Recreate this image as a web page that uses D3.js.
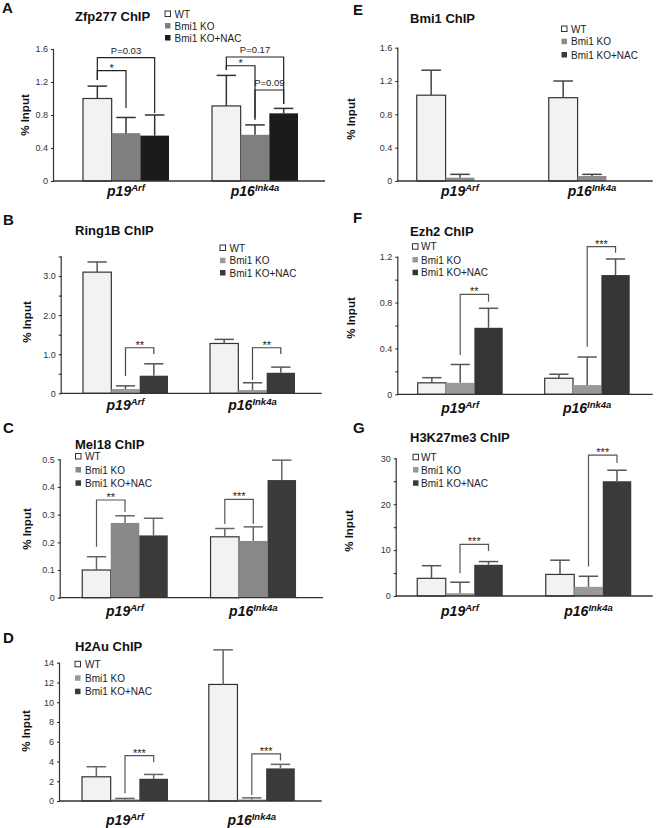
<!DOCTYPE html>
<html><head><meta charset="utf-8">
<script src="https://cdn.jsdelivr.net/npm/d3@7/dist/d3.min.js"></script>
<style>
body{margin:0;background:#fff}
svg{display:block}
text{font-family:"Liberation Sans", Arial, Helvetica, sans-serif}
</style>
</head><body>
<svg id="fig" width="661" height="828"></svg>
<script>
// ---------------- DATA ----------------
const genes = ["p19Arf", "p16Ink4a"];
const geneMain = ["p19", "p16"];
const geneSup = ["Arf", "Ink4a"];
const seriesNames = ["WT", "Bmi1 KO", "Bmi1 KO+NAC"];

// A  Zfp277 ChIP   [gene][series]
const zfp277Mean = [[1.00, 0.58, 0.55], [0.91, 0.56, 0.82]];
const zfp277Err  = [[0.15, 0.19, 0.25], [0.37, 0.12, 0.06]];
const zfp277Ticks = [0, 0.4, 0.8, 1.2, 1.6];
const zfp277TickLabels = ["0", "0.4", "0.8", "1.2", "1.6"];
// [gene, fromSeries, toSeries, leftFoot, top, rightFoot, label]
const zfp277Sig = [
  [0, 0, 2, 1.224, 1.495, 0.824, "P=0.03"],
  [0, 0, 1, 1.224, 1.337, 0.885, "*"],
  [1, 0, 2, 1.345, 1.503, 0.933, "P=0.17"],
  [1, 0, 1, 1.345, 1.397, 0.740, "*"],
  [1, 1, 2, 0.764, 1.103, 0.933, "P=0.09"]
];

// B  Ring1B ChIP
const ring1bMean = [[3.10, 0.11, 0.45], [1.275, 0.085, 0.525]];
const ring1bErr  = [[0.26, 0.08, 0.305], [0.105, 0.185, 0.145]];
const ring1bTicks = [0, 0.5, 1, 1.5, 2, 2.5, 3, 3.5];
const ring1bTickLabels = ["0", "", "1.0", "", "2.0", "", "3.0", ""];
const ring1bSig = [
  [0, 1, 2, 0.44, 1.166, 1.005, "**"],
  [1, 1, 2, 0.34, 1.166, 1.005, "**"]
];

// C  Mel18 ChIP
const mel18Mean = [[0.10, 0.27, 0.225], [0.22, 0.205, 0.425]];
const mel18Err  = [[0.048, 0.026, 0.062], [0.03, 0.051, 0.072]];
const mel18Ticks = [0, 0.1, 0.2, 0.3, 0.4, 0.5];
const mel18TickLabels = ["0", "0.1", "0.2", "0.3", "0.4", "0.5"];
const mel18Sig = [
  [0, 0, 1, 0.184, 0.353, 0.31, "**"],
  [1, 0, 1, 0.266, 0.355, 0.266, "***"]
];

// D  H2Au ChIP
const h2auMean = [[2.45, 0.16, 2.25], [11.8, 0.15, 3.3]];
const h2auErr  = [[1.02, 0.1, 0.44], [3.5, 0.17, 0.41]];
const h2auTicks = [0, 2, 4, 6, 8, 10, 12, 14];
const h2auTickLabels = ["0", "2", "4", "6", "8", "10", "12", "14"];
const h2auSig = [
  [0, 1, 2, 0.78, 4.6, 3.93, "***"],
  [1, 1, 2, 0.6, 4.77, 4.09, "***"]
];

// E  Bmi1 ChIP
const bmi1Mean = [[1.03, 0.04, 0], [1.00, 0.06, 0]];
const bmi1Err  = [[0.30, 0.04, 0], [0.20, 0.02, 0]];
const bmi1Ticks = [0, 0.4, 0.8, 1.2, 1.6];
const bmi1TickLabels = ["0", "0.4", "0.8", "1.2", "1.6"];
const bmi1Sig = [];

// F  Ezh2 ChIP
const ezh2Mean = [[0.10, 0.10, 0.58], [0.14, 0.08, 1.04]];
const ezh2Err  = [[0.045, 0.16, 0.17], [0.035, 0.245, 0.14]];
const ezh2Ticks = [0, 0.2, 0.4, 0.6, 0.8, 1.0, 1.2];
const ezh2TickLabels = ["0", "", "0.4", "", "0.8", "", "1.2"];
const ezh2Sig = [
  [0, 1, 2, 0.343, 0.872, 0.807, "**"],
  [1, 1, 2, 0.415, 1.287, 1.235, "***"]
];

// G  H3K27me3 ChIP
const h3k27Mean = [[3.85, 0.6, 6.8], [4.7, 2.0, 25.0]];
const h3k27Err  = [[2.75, 2.4, 0.7], [3.1, 2.3, 2.4]];
const h3k27Ticks = [0, 5, 10, 15, 20, 25, 30];
const h3k27TickLabels = ["0", "", "10", "", "20", "", "30"];
const h3k27Sig = [
  [0, 1, 2, 4.95, 11.26, 9.8, "***"],
  [1, 1, 2, 6.4, 30.7, 29.0, "***"]
];

// ---------------- LAYOUT / STYLE ----------------
const panels = [
  {letter:"A", title:"Zfp277 ChIP", mean:zfp277Mean, err:zfp277Err, ticks:zfp277Ticks, tickLabels:zfp277TickLabels, sig:zfp277Sig,
   L:{lx:2, ly:13, tx:75, ty:21, ax0:54, ax1:325, c:[126,255], gw:86, y0:181, y1:49, catY:196, labX:25, labY:115,
      leg:{sx:165, tx:174.5, ys:[14,26,38]}, colors:["#f2f2f2","#7f7f7f","#1b1b1b"], errC:"#333", sigC:"#222"}},
  {letter:"B", title:"Ring1B ChIP", mean:ring1bMean, err:ring1bErr, ticks:ring1bTicks, tickLabels:ring1bTickLabels, sig:ring1bSig,
   L:{lx:3, ly:225, tx:75, ty:235, ax0:61.7, ax1:321.7, c:[125.5,252.5], gw:85, y0:393.3, y1:256.5, catY:410, labX:27, labY:322,
      leg:{sx:220, tx:229.5, ys:[248,260.7,273]}, colors:["#f2f2f2","#9a9a9a","#3a3a3a"], errC:"#555", sigC:"#444"}},
  {letter:"C", title:"Mel18 ChIP", mean:mel18Mean, err:mel18Err, ticks:mel18Ticks, tickLabels:mel18TickLabels, sig:mel18Sig,
   L:{lx:3, ly:433, tx:75, ty:449, ax0:60.7, ax1:323, c:[125,253.3], gw:85.5, y0:597.7, y1:459.3, catY:616, labX:27, labY:529,
      leg:{sx:75.5, tx:85, ys:[456.5,470,483.3]}, colors:["#f2f2f2","#888888","#3a3a3a"], errC:"#666", sigC:"#555"}},
  {letter:"D", title:"H2Au ChIP", mean:h2auMean, err:h2auErr, ticks:h2auTicks, tickLabels:h2auTickLabels, sig:h2auSig,
   L:{lx:3, ly:643, tx:75, ty:651, ax0:60, ax1:321.7, c:[125,251.8], gw:86, y0:801, y1:662.7, catY:825, labX:26, labY:731,
      leg:{sx:75, tx:85, ys:[664.3,678.3,691.7]}, colors:["#f2f2f2","#999999","#3a3a3a"], errC:"#666", sigC:"#555"}},
  {letter:"E", title:"Bmi1 ChIP", mean:bmi1Mean, err:bmi1Err, ticks:bmi1Ticks, tickLabels:bmi1TickLabels, sig:bmi1Sig,
   L:{lx:353, ly:15, tx:410, ty:23, ax0:398.3, ax1:652.7, c:[460,592], gw:86.5, y0:181, y1:47.7, catY:196, labX:351, labY:119,
      leg:{sx:561.5, tx:571, ys:[29,41.7,55]}, colors:["#f2f2f2","#8c8c8c","#3a3a3a"], errC:"#444", sigC:"#444"}},
  {letter:"F", title:"Ezh2 ChIP", mean:ezh2Mean, err:ezh2Err, ticks:ezh2Ticks, tickLabels:ezh2TickLabels, sig:ezh2Sig,
   L:{lx:353, ly:223, tx:410, ty:236, ax0:398.3, ax1:652.7, c:[460.2,587.2], gw:85, y0:394.3, y1:256.7, catY:413, labX:351, labY:318,
      leg:{sx:412.5, tx:421, ys:[246.7,260,272.7]}, colors:["#f2f2f2","#999999","#353535"], errC:"#555", sigC:"#555"}},
  {letter:"G", title:"H3K27me3 ChIP", mean:h3k27Mean, err:h3k27Err, ticks:h3k27Ticks, tickLabels:h3k27TickLabels, sig:h3k27Sig,
   L:{lx:353, ly:433, tx:410, ty:442, ax0:396.7, ax1:652.7, c:[460,588.5], gw:85.5, y0:596, y1:458.3, catY:616, labX:349, labY:531,
      leg:{sx:413, tx:421, ys:[457.3,470,483.3]}, colors:["#f2f2f2","#999999","#3a3a3a"], errC:"#555", sigC:"#555"}}
];

const svg = d3.select("#fig");
svg.append("rect").attr("width",661).attr("height",828).attr("fill","#fff");

panels.forEach(p => {
  const L = p.L;
  const g = svg.append("g");
  const step = L.c[1] - L.c[0];
  const pin = 1 - L.gw / step;
  const x0 = d3.scaleBand().domain(genes).range([L.c[0] - step/2, L.c[1] + step/2])
    .paddingInner(pin).paddingOuter(pin/2);
  const x1 = d3.scaleBand().domain(seriesNames).range([0, x0.bandwidth()]).padding(0);
  const ymax = p.ticks[p.ticks.length - 1];
  const y = d3.scaleLinear().domain([0, ymax]).range([L.y0, L.y1]);
  const bw = x1.bandwidth();
  const cx = (gi, si) => x0(genes[gi]) + x1(seriesNames[si]) + bw/2;

  // letter and title
  g.append("text").attr("x", L.lx).attr("y", L.ly).attr("font-size", 15).attr("font-weight", "bold").attr("fill","#111").text(p.letter);
  g.append("text").attr("x", L.tx).attr("y", L.ty).attr("font-size", 13).attr("font-weight", "bold").attr("fill","#111").text(p.title);

  // bars
  genes.forEach((gene, gi) => {
    seriesNames.forEach((s, si) => {
      const v = p.mean[gi][si];
      g.append("rect")
        .attr("x", x0(gene) + x1(s)).attr("y", y(v))
        .attr("width", bw).attr("height", Math.max(0, y(0) - y(v)))
        .attr("fill", L.colors[si])
        .attr("stroke", si === 0 ? "#333" : "none").attr("stroke-width", 1.2);
    });
  });
  // error bars
  genes.forEach((gene, gi) => {
    seriesNames.forEach((s, si) => {
      const v = p.mean[gi][si], e = p.err[gi][si];
      if (!e) return;
      const c = cx(gi, si);
      const capW = bw * 0.68;
      g.append("line").attr("x1", c).attr("x2", c).attr("y1", y(v)).attr("y2", y(v + e))
        .attr("stroke", L.errC).attr("stroke-width", 1.5);
      g.append("line").attr("x1", c - capW/2).attr("x2", c + capW/2).attr("y1", y(v + e)).attr("y2", y(v + e))
        .attr("stroke", L.errC).attr("stroke-width", 1.5);
    });
  });

  // axes
  const yAxis = d3.axisLeft(y).tickValues(p.ticks).tickSize(3).tickPadding(3)
    .tickFormat((d, i) => p.tickLabels[i]);
  const ga = g.append("g").attr("transform", `translate(${L.ax0},0)`).call(yAxis);
  ga.select(".domain").attr("stroke", "#333").attr("stroke-width", 1.2).attr("d", `M-0.5,${y(ymax)}V${y(0)}`);
  ga.selectAll(".tick line").attr("stroke", "#333").attr("stroke-width", 1.1);
  ga.selectAll(".tick text").attr("font-size", 9).attr("fill", "#333")
    .attr("font-family", '"Liberation Sans", Arial, sans-serif');
  g.append("line").attr("x1", L.ax0 - 1).attr("x2", L.ax1).attr("y1", y(0)).attr("y2", y(0))
    .attr("stroke", "#333").attr("stroke-width", 1.3);

  // y label
  g.append("text").attr("transform", `translate(${L.labX + 4},${L.labY}) rotate(-90)`)
    .attr("text-anchor", "middle").attr("font-size", 11.5).attr("font-weight", "bold").attr("fill", "#111")
    .text("% Input");

  // category labels
  genes.forEach((gene, gi) => {
    const t = g.append("text").attr("x", x0(gene) + x0.bandwidth()/2).attr("y", L.catY)
      .attr("text-anchor", "middle").attr("font-weight", "bold").attr("font-style", "italic").attr("fill", "#111");
    t.append("tspan").attr("font-size", 14).text(geneMain[gi]);
    t.append("tspan").attr("font-size", 9.5).attr("dy", -5.5).text(geneSup[gi]);
  });

  // legend
  seriesNames.forEach((s, si) => {
    const ry = L.leg.ys[si];
    g.append("rect").attr("x", L.leg.sx).attr("y", ry - 3).attr("width", 5.5).attr("height", 5.5)
      .attr("fill", si === 0 ? "#fff" : L.colors[si])
      .attr("stroke", si === 0 ? "#333" : "none").attr("stroke-width", 1);
    g.append("text").attr("x", L.leg.tx).attr("y", ry + 3.6).attr("font-size", 10).attr("fill", "#222").text(s);
  });

  // significance brackets
  p.sig.forEach(sg => {
    const [gi, a, b, lf, top, rf, label] = sg;
    const xa = cx(gi, a), xb = cx(gi, b);
    g.append("path").attr("d", `M${xa},${y(lf)}V${y(top)}H${xb}V${y(rf)}`)
      .attr("fill", "none").attr("stroke", L.sigC).attr("stroke-width", 1.2);
    const isStar = label.indexOf("*") === 0;
    g.append("text").attr("x", (xa + xb)/2).attr("y", isStar ? y(top) + 1 : y(top) - 4)
      .attr("text-anchor", "middle").attr("font-size", isStar ? 11 : 9.5).attr("fill", "#222").text(label);
  });
});
</script>
</body></html>
